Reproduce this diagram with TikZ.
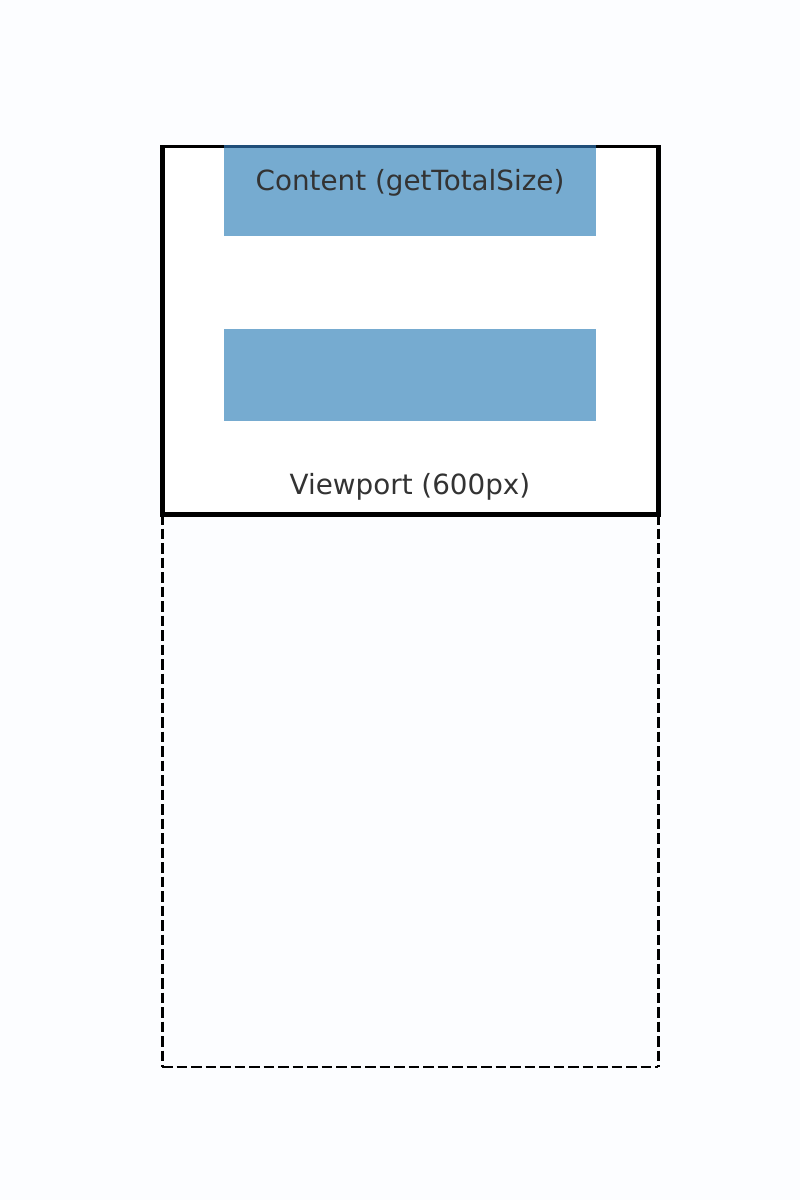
\documentclass[tikz,border=0pt]{standalone}
\usepackage{fontspec}
\setmainfont{DejaVu Sans}
\definecolor{bgc}{HTML}{FCFDFF}
\definecolor{blockc}{HTML}{76ABD0}
\definecolor{blockedge}{HTML}{1F4E79}
\definecolor{txtc}{HTML}{333333}
\begin{document}
\begin{tikzpicture}[x=1pt,y=-1pt,
  block/.style={fill=blockc,draw=none,minimum width=372pt,inner sep=0pt,outer sep=0pt},
  lbl/.style={text=txtc,font=\fontsize{27.8}{33}\selectfont,inner sep=0pt,anchor=base},
  dashline/.style={dash pattern=on 10.5pt off 4pt}]
\fill[bgc] (0,0) rectangle (800,1200);
\useasboundingbox (0,0) rectangle (800,1200);
% viewport
\node[fill=white,minimum width=496pt,minimum height=369pt,inner sep=0pt,outer sep=0pt] (viewport) at (410,329.5) {};
% content blocks
\node[block,minimum height=91pt] (content) at (410,190.5) {};
\node[block,minimum height=92pt] (block2) at (410,375) {};
% dashed region below
\coordinate (bl) at (162,1067);
\coordinate (br) at (658,1067);
\draw[line width=3pt,dashline] (viewport.south west) -- (bl);
\draw[line width=3pt,dashline] (viewport.south east) -- (br);
\draw[line width=1.8pt,dashline] (bl) -- (br);
% viewport frame
\draw[line width=5pt] (viewport.north west) -- (viewport.south west) -- (viewport.south east) -- (viewport.north east);
\draw[line width=2.6pt] ([yshift=-1.3pt]viewport.north west) -- ([yshift=-1.3pt]viewport.north east);
\draw[line width=2.6pt,blockedge] ([yshift=-1.3pt]content.north west) -- ([yshift=-1.3pt]content.north east);
% labels
\node[lbl] (contentlbl) at (410,190) {Content (getTotalSize)};
\node[lbl] (viewportlbl) at (410,494) {Viewport (600px)};
\end{tikzpicture}
\end{document}
